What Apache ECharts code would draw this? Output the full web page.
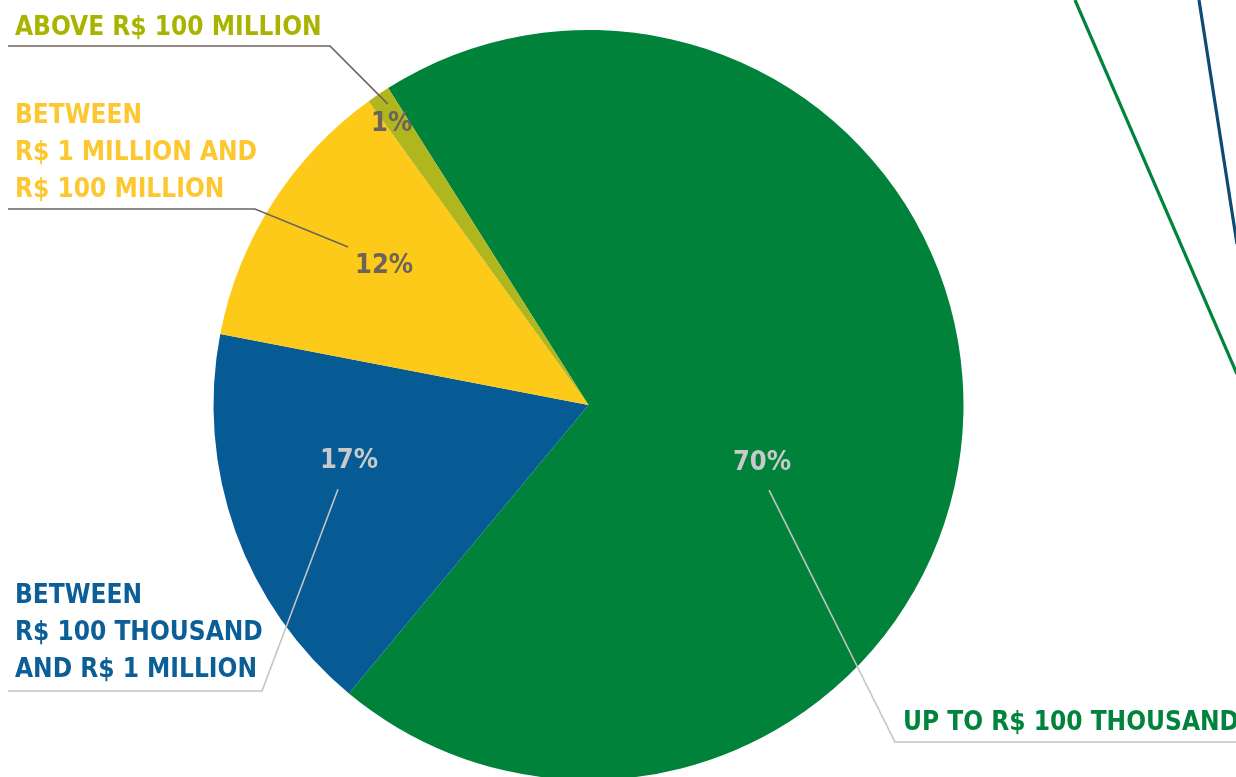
<!DOCTYPE html>
<html>
<head>
<meta charset="utf-8">
<title>Distribution by range</title>
<script src="https://cdn.jsdelivr.net/npm/echarts@6/dist/echarts.min.js"></script>
<style>
  html, body { margin: 0; padding: 0; background: #ffffff; }
  #chart { width: 1236px; height: 777px; }
</style>
</head>
<body>
<div id="chart"></div>
<script>
// Range categories (display lines) and their shares in percent
const categoryLines = [
  ['UP TO R$ 100 THOUSAND'],
  ['BETWEEN', 'R$ 100 THOUSAND', 'AND R$ 1 MILLION'],
  ['BETWEEN', 'R$ 1 MILLION AND', 'R$ 100 MILLION'],
  ['ABOVE R$ 100 MILLION']
];
const shares = [70, 17, 12, 1];

// Styling per slice
const sliceColors = ['#00823a', '#065b95', '#fdca19', '#b0b61e'];
const nameColors = ['#00843d', '#0b5e96', '#fdc82f', '#a9b400'];
const valueColors = ['#c9c9c9', '#c9c9c9', '#6d635b', '#6d635b'];
const leaderColors = ['#c4c4c4', '#c4c4c4', '#6d635b', '#6d635b'];

// Where each percentage sits: [angle clockwise from 12 o'clock, fraction of radius]
const valuePlacement = [[108.5, 0.488], [256.8, 0.656], [304.2, 0.659], [325, 0.915]];

// Callout layout: name block anchor, bend of the leader line, underline end,
// and the leader's offset from its percentage label
const callouts = [
  { textX: 903, textY: 723, bendX: 895, lineY: 742, endX: 1236, offset: [7, 27] },
  { textX: 15,  textY: 633, bendX: 262, lineY: 691, endX: 8,    offset: [-11, 28] },
  { textX: 15,  textY: 153.5, bendX: 255, lineY: 209, endX: 8,  offset: [-36, -19] },
  { textX: 15,  textY: 28,  bendX: 330, lineY: 46,  endX: 8,    offset: [-4, -20] }
];

const FONT_FAMILY = '"DejaVu Sans Condensed", "Liberation Sans Narrow", "DejaVu Sans", sans-serif';
const CENTER = [588.5, 405];
const RADIUS = 375;
const START_ANGLE = 122.3;

function polar(angleDeg, frac) {
  const a = angleDeg * Math.PI / 180;
  return [CENTER[0] + RADIUS * frac * Math.sin(a), CENTER[1] - RADIUS * frac * Math.cos(a)];
}

const chart = echarts.init(document.getElementById('chart'), null, { renderer: 'canvas' });

const pieData = shares.map((v, i) => ({
  name: categoryLines[i].join(' '),
  value: v,
  itemStyle: { color: sliceColors[i] },
  label: { color: valueColors[i] }
}));

const valuePos = valuePlacement.map(p => polar(p[0], p[1]));

const graphics = [];
// name blocks and leader lines, drawn above the slices
callouts.forEach((c, i) => {
  const end = [valuePos[i][0] + c.offset[0], valuePos[i][1] + c.offset[1]];
  graphics.push({
    type: 'polyline',
    silent: true,
    z: 100,
    shape: { points: [end, [c.bendX, c.lineY], [c.endX, c.lineY]] },
    style: { stroke: leaderColors[i], lineWidth: 1.6, fill: null }
  });
  graphics.push({
    type: 'text',
    silent: true,
    z: 100,
    x: c.textX,
    y: c.textY,
    style: {
      text: categoryLines[i].join('\n'),
      font: 'bold 26px ' + FONT_FAMILY,
      fill: nameColors[i],
      textAlign: 'left',
      textVerticalAlign: 'middle',
      lineHeight: 37
    }
  });
});
// strokes entering from the neighbouring panel at the top right
graphics.push({
  type: 'line', silent: true, z: 100,
  shape: { x1: 1075, y1: 0, x2: 1237, y2: 374 },
  style: { stroke: '#00843d', lineWidth: 3.2 }
});
graphics.push({
  type: 'line', silent: true, z: 100,
  shape: { x1: 1199, y1: 0, x2: 1237, y2: 244 },
  style: { stroke: '#0d4a74', lineWidth: 3.2 }
});

chart.setOption({
  animation: false,
  backgroundColor: '#ffffff',
  series: [{
    type: 'pie',
    z: 2,
    center: [CENTER[0], CENTER[1]],
    radius: [0, RADIUS],
    startAngle: START_ANGLE,
    clockwise: true,
    avoidLabelOverlap: false,
    silent: true,
    itemStyle: { borderWidth: 0 },
    label: {
      show: true,
      position: 'inside',
      formatter: '{c}%',
      fontFamily: FONT_FAMILY,
      fontWeight: 'bold',
      fontSize: 27
    },
    labelLine: { show: false },
    labelLayout: function (params) {
      const p = valuePos[params.dataIndex];
      return { x: p[0], y: p[1], align: 'center', verticalAlign: 'middle' };
    },
    data: pieData
  }],
  graphic: graphics
});
</script>
</body>
</html>
